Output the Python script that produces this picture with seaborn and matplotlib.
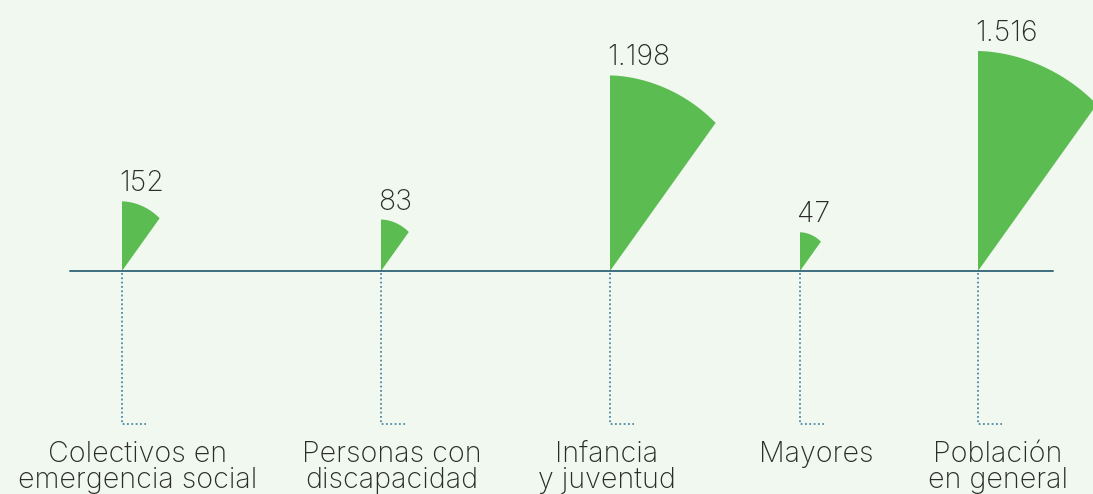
import numpy as np
import matplotlib
matplotlib.use("Agg")
import matplotlib.pyplot as plt
from matplotlib.patches import Polygon
import seaborn as sns

# data
categories = ["Colectivos en\nemergencia social", "Personas con\ndiscapacidad",
              "Infancia\ny juventud", "Mayores", "Población\nen general"]
values = [152, 83, 1198, 47, 1516]

# layout (pixel coords, y grows downward)
apex_x = [122, 381, 610, 800, 978]
label_x = [138, 392, 607, 816, 998]
base_y = 271
max_radius = 220
bg = "#f1f8ef"
green = "#5bbd51"
text_col = "#2b2b2b"

sns.set_theme(style="white", rc={"axes.facecolor": bg, "figure.facecolor": bg})
plt.rcParams["font.family"] = ["Inter", "DejaVu Sans"]

fig = plt.figure(figsize=(10.93, 4.94), dpi=100)
ax = fig.add_axes([0, 0, 1, 1])
ax.set_xlim(0, 1093)
ax.set_ylim(494, 0)
ax.axis("off")

# radius scale: area proportional to value
k = max_radius / np.sqrt(max(values))


def fmt(v):
    return f"{v:,}".replace(",", ".")


for cat, v, x0, lx in zip(categories, values, apex_x, label_x):
    r = k * np.sqrt(v)
    phis = np.linspace(0, np.radians(35.5), 40)
    rr = r * (1 - 0.07 * (phis / phis[-1]) ** 1.5)
    pts = [(x0, base_y)] + [(x0 + ri * np.sin(p), base_y - ri * np.cos(p)) for ri, p in zip(rr, phis)]
    ax.add_patch(Polygon(pts, closed=True, facecolor=green, edgecolor="none", zorder=3))

    ax.text(x0 - 3, base_y - r - 10, fmt(v), ha="left", va="baseline",
            fontsize=20.5, fontweight="light", color=text_col, zorder=4)

    # dotted leader
    ax.plot([x0, x0, x0 + 24], [base_y + 2, 424, 424], color="#4f8aa3",
            lw=1.3, ls=(0, (1, 1.4)), zorder=2)

    for i, line in enumerate(cat.split("\n")):
        ax.text(lx, 462 + 26 * i, line, ha="center", va="baseline",
                fontsize=20.6, fontweight="light", color=text_col)

# baseline axis
ax.plot([70, 1053], [base_y, base_y], color="#3d6e80", lw=1.4, zorder=3)

fig.savefig("out.png", dpi=100, facecolor=bg)
